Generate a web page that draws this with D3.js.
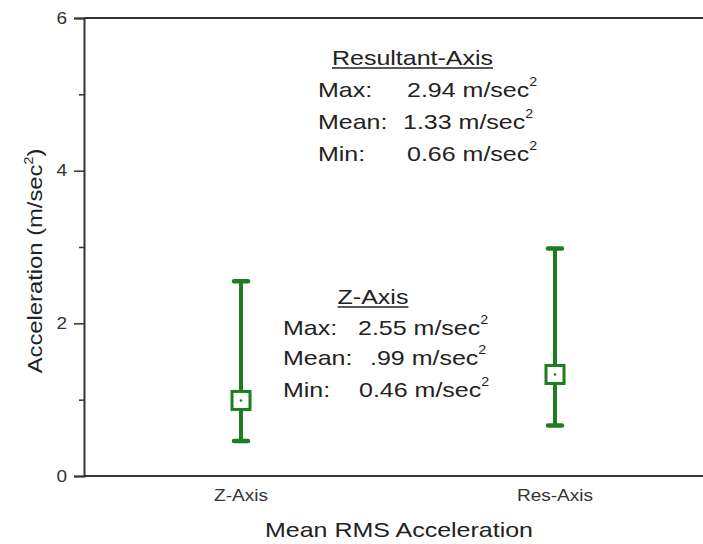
<!DOCTYPE html>
<html><head><meta charset="utf-8">
<script src="https://cdn.jsdelivr.net/npm/d3@7"></script>
<style>body{margin:0;background:#fff;} text{font-family:"Liberation Sans",Arial,sans-serif;}</style>
</head><body>
<svg id="c" width="703" height="544"></svg>
<script>
const categories = ["Z-Axis", "Res-Axis"];
const maxVals = [2.55, 2.98];
const meanVals = [0.99, 1.33];
const minVals = [0.46, 0.66];
const yTicks = [0, 2, 4, 6];
const yMinorTicks = [1, 3, 5];
const resLabels = [["Max:", "2.94"], ["Mean:", "1.33"], ["Min:", "0.66"]];
const zLabels = [["Max:", "2.55"], ["Mean:", ".99"], ["Min:", "0.46"]];

const SX = 1.19; // horizontal stretch of text in the reference
const svg = d3.select("#c");
const green = "#1e7d1e";
const axisCol = "#333";
const x = d3.scaleLinear().domain([0.5, 2.5]).range([84, 712]);
const y = d3.scaleLinear().domain([0, 6]).range([476, 18]);

function label(px, py, size, anchor, fill, rot){
  const g = svg.append("g").attr("transform",`translate(${px},${py})` + (rot?` rotate(${rot})`:"") + ` scale(${SX},1)`);
  return g.append("text").attr("font-size",size).attr("text-anchor",anchor).attr("fill",fill);
}

// frame
svg.append("line").attr("x1",84).attr("x2",703).attr("y1",y(6)).attr("y2",y(6)).attr("stroke",axisCol).attr("stroke-width",2);
svg.append("line").attr("x1",84).attr("x2",703).attr("y1",y(0)).attr("y2",y(0)).attr("stroke",axisCol).attr("stroke-width",2);

// y axis
const yAxis = svg.append("g").attr("transform","translate(84,0)")
  .call(d3.axisLeft(y).tickValues(yTicks).tickSize(10).tickFormat(""));
yAxis.select(".domain").attr("stroke",axisCol).attr("stroke-width",2);
yAxis.selectAll(".tick line").attr("stroke",axisCol).attr("stroke-width",1.5);
const yMinor = svg.append("g").attr("transform","translate(84,0)")
  .call(d3.axisLeft(y).tickValues(yMinorTicks).tickSize(5).tickFormat(""));
yMinor.select(".domain").remove();
yMinor.selectAll(".tick line").attr("stroke",axisCol).attr("stroke-width",1.5);
yTicks.forEach(t=>{
  label(67, y(t), 16, "end", "#333").attr("dy","0.36em").text(d3.format("d")(t));
});

// x labels
categories.forEach((c,i)=>{
  label(x(i+1), 501, 16, "middle", "#333").text(c);
});

// titles
label(399, 537, 21, "middle", "#222").text("Mean RMS Acceleration");
const yt = label(42, 261, 20, "middle", "#222", -90);
yt.append("tspan").text("Acceleration (m/sec");
yt.append("tspan").attr("dy",-9).attr("font-size",12).text("2");
yt.append("tspan").attr("dy",9).text(")");

// error bars
const g = svg.append("g");
categories.forEach((c,i)=>{
  const cx = x(i+1);
  g.append("line").attr("x1",cx).attr("x2",cx).attr("y1",y(maxVals[i])).attr("y2",y(minVals[i])).attr("stroke",green).attr("stroke-width",4);
  [maxVals[i],minVals[i]].forEach(v=>{
    g.append("line").attr("x1",cx-7).attr("x2",cx+7).attr("y1",y(v)).attr("y2",y(v)).attr("stroke",green).attr("stroke-width",4.5).attr("stroke-linecap","round");
  });
  g.append("rect").attr("x",cx-9).attr("y",y(meanVals[i])-9).attr("width",18).attr("height",18)
    .attr("fill","#fff").attr("stroke",green).attr("stroke-width",3);
  g.append("circle").attr("cx",cx).attr("cy",y(meanVals[i])).attr("r",1.3).attr("fill",green);
});

// annotations
function block(title, tx, tby, rows, labelX, valX, rowYs){
  const t = label(tx, tby, 21, "middle", "#222").text(title);
  const w = t.node().getComputedTextLength() * SX;
  svg.append("line").attr("x1",tx-w/2).attr("x2",tx+w/2).attr("y1",tby+3).attr("y2",tby+3).attr("stroke","#222").attr("stroke-width",1.3);
  rows.forEach((r,k)=>{
    label(labelX, rowYs[k], 21, "start", "#222").text(r[0]);
    const v = label(valX[k], rowYs[k], 21, "start", "#222");
    v.append("tspan").text(r[1]+" m/sec");
    v.append("tspan").attr("dy",-11).attr("font-size",12).text("2");
  });
}
block("Resultant-Axis", 412.5, 65, resLabels, 318, [407,403,407], [97,129,161]);
block("Z-Axis", 373, 304, zLabels, 283, [358,370,359], [335,365,397]);
</script>
</body></html>
